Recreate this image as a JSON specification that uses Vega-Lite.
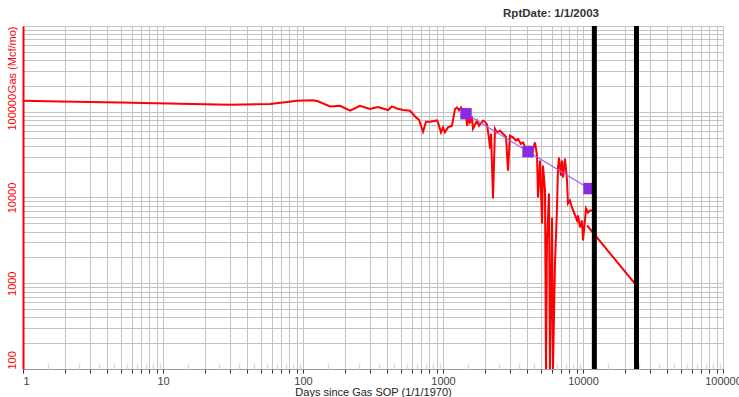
{
  "$schema": "https://vega.github.io/schema/vega-lite/v6.json",
  "width": 700,
  "height": 343,
  "autosize": {"type": "none"},
  "padding": {"left": 23, "top": 26, "right": 16, "bottom": 28},
  "background": "white",
  "config": {"view": {"stroke": null}},
  "title": {"text": "RptDate: 1/1/2003", "fontSize": 11.5, "fontWeight": "bold", "color": "#333333", "font": "Liberation Sans", "anchor": "middle", "dx": 178, "offset": 4},
  "datasets": {
    "hist": [
      {"days": 1, "gas": 134300}, {"days": 1.84, "gas": 131800}, {"days": 4.93, "gas": 128300}, {"days": 13.2, "gas": 123900},
      {"days": 30.1, "gas": 120500}, {"days": 58.1, "gas": 122900}, {"days": 74.4, "gas": 128900}, {"days": 90.6, "gas": 134300},
      {"days": 118, "gas": 136100}, {"days": 128, "gas": 132400}, {"days": 156, "gas": 115300}, {"days": 184, "gas": 117400},
      {"days": 217, "gas": 102800}, {"days": 255, "gas": 117400}, {"days": 301, "gas": 107500}, {"days": 343, "gas": 113500},
      {"days": 405, "gas": 104700}, {"days": 432, "gas": 115300}, {"days": 469, "gas": 109200}, {"days": 518, "gas": 104700},
      {"days": 581, "gas": 102800}, {"days": 641, "gas": 85900}, {"days": 674, "gas": 80700}, {"days": 720, "gas": 58500},
      {"days": 756, "gas": 76500}, {"days": 807, "gas": 76500}, {"days": 906, "gas": 79200}, {"days": 921, "gas": 75100},
      {"days": 968, "gas": 57500}, {"days": 1000, "gas": 65700}, {"days": 1033, "gas": 57500}, {"days": 1086, "gas": 65700},
      {"days": 1159, "gas": 68800}, {"days": 1218, "gas": 107500}, {"days": 1259, "gas": 112200}, {"days": 1301, "gas": 104000},
      {"days": 1345, "gas": 112200}, {"days": 1389, "gas": 98200}, {"days": 1460, "gas": 94800}, {"days": 1484, "gas": 68800},
      {"days": 1534, "gas": 85900}, {"days": 1559, "gas": 75100}, {"days": 1611, "gas": 82900}, {"days": 1638, "gas": 63400},
      {"days": 1749, "gas": 78600}, {"days": 1807, "gas": 68800}, {"days": 1931, "gas": 78600}, {"days": 1995, "gas": 76500},
      {"days": 2062, "gas": 70600}, {"days": 2131, "gas": 48500}, {"days": 2168, "gas": 37100}, {"days": 2203, "gas": 55500},
      {"days": 2276, "gas": 9730}, {"days": 2352, "gas": 63400}, {"days": 2430, "gas": 57500}, {"days": 2553, "gas": 60100},
      {"days": 2683, "gas": 55500}, {"days": 2818, "gas": 51200}, {"days": 2912, "gas": 20600}, {"days": 3010, "gas": 52600},
      {"days": 3162, "gas": 50300}, {"days": 3321, "gas": 46000}, {"days": 3433, "gas": 48200}, {"days": 3607, "gas": 42100},
      {"days": 3728, "gas": 44000}, {"days": 3917, "gas": 37100}, {"days": 4115, "gas": 39200}, {"days": 4323, "gas": 33400},
      {"days": 4542, "gas": 44000}, {"days": 4694, "gas": 30800}, {"days": 4773, "gas": 10000}, {"days": 4932, "gas": 26900},
      {"days": 5097, "gas": 4990}, {"days": 5179, "gas": 23600}, {"days": 5352, "gas": 12100}, {"days": 5442, "gas": 100},
      {"days": 5530, "gas": 3160}, {"days": 5715, "gas": 11100}, {"days": 5808, "gas": 100}, {"days": 6013, "gas": 5850},
      {"days": 6105, "gas": 100}, {"days": 6310, "gas": 1710}, {"days": 6520, "gas": 7650}, {"days": 6630, "gas": 22300},
      {"days": 6740, "gas": 29200}, {"days": 6960, "gas": 18000}, {"days": 7080, "gas": 26900}, {"days": 7200, "gas": 17100},
      {"days": 7440, "gas": 28400}, {"days": 7690, "gas": 15800}, {"days": 7810, "gas": 8520}, {"days": 8070, "gas": 9230},
      {"days": 8340, "gas": 7650}, {"days": 8620, "gas": 6690}, {"days": 9060, "gas": 5400}, {"days": 9210, "gas": 6180},
      {"days": 9520, "gas": 4480}, {"days": 9840, "gas": 5400}, {"days": 10000, "gas": 3160}, {"days": 10330, "gas": 5400},
      {"days": 10500, "gas": 7450}, {"days": 10860, "gas": 6690}, {"days": 11220, "gas": 7060}, {"days": 11590, "gas": 7060}
    ],
    "forecast": [{"days": 10680, "gas": 4730}, {"days": 24300, "gas": 923}],
    "typecurve": [{"days": 1460, "gas": 94800}, {"days": 4050, "gas": 34300}, {"days": 11040, "gas": 12700}],
    "dates": [{"days": 12053, "label": "RptDate"}, {"days": 24107, "label": "End"}]
  },
  "resolve": {"axis": {"x": "independent"}},
  "layer": [
    {
      "encoding": {
        "x": {
          "field": "days", "type": "quantitative",
          "scale": {"type": "log", "domain": [1, 100000], "nice": false},
          "axis": {
            "values": [1,2,3,4,5,6,7,8,9,10,20,30,40,50,60,70,80,90,100,200,300,400,500,600,700,800,900,1000,2000,3000,4000,5000,6000,7000,8000,9000,10000,20000,30000,40000,50000,60000,70000,80000,90000,100000],
            "format": "d",
            "labelExpr": "indexof([1,10,100,1000,10000,100000], datum.value) >= 0 ? datum.label : ''",
            "labelAlign": {"condition": {"test": "datum.value == 1", "value": "left"}, "value": "center"},
            "labelOverlap": false, "labelFlush": false,
            "grid": true, "gridColor": "#c4c4c4", "gridWidth": 1,
            "domainColor": "#999999", "tickColor": "#333333", "tickSize": 4,
            "labelColor": "#444444", "labelFont": "Liberation Sans", "labelFontSize": 11, "labelPadding": 2,
            "title": "Days since Gas SOP (1/1/1970)", "titleFont": "Liberation Sans", "titleFontSize": 11,
            "titleFontWeight": "normal", "titleColor": "#222222", "titlePadding": 0
          }
        },
        "y": {
          "field": "gas", "type": "quantitative",
          "scale": {"type": "log", "domain": [100, 1000000], "nice": false},
          "axis": {
            "values": [100,200,300,400,500,600,700,800,900,1000,2000,3000,4000,5000,6000,7000,8000,9000,10000,20000,30000,40000,50000,60000,70000,80000,90000,100000,200000,300000,400000,500000,600000,700000,800000,900000,1000000],
            "format": "d",
            "labelExpr": "indexof([100,1000,10000,100000], datum.value) >= 0 ? datum.label : ''",
            "labelOverlap": false, "labelFlush": false,
            "grid": true, "gridColor": "#c4c4c4", "gridWidth": 1,
            "domainColor": "#ff0000", "domainWidth": 2, "ticks": false,
            "labelColor": "#ff0000", "labelFont": "Liberation Sans", "labelFontSize": 11,
            "labelAngle": 270,
            "labelAlign": {"condition": {"test": "datum.value == 100", "value": "left"}, "value": "center"},
            "labelBaseline": "bottom", "labelPadding": 6,
            "title": "Gas (Mcf/mo)", "titleColor": "#ff0000", "titleFont": "Liberation Sans", "titleFontSize": 11,
            "titleFontWeight": "normal", "titleAngle": 270, "titleX": -11, "titleY": 0,
            "titleAlign": "right", "titleBaseline": "middle"
          }
        }
      },
      "layer": [
        {"data": {"name": "hist"}, "mark": {"type": "line", "color": "#ff0000", "strokeWidth": 2, "clip": true}},
        {"data": {"name": "forecast"}, "mark": {"type": "line", "color": "#ff0000", "strokeWidth": 2, "clip": true}},
        {"data": {"name": "typecurve"}, "mark": {"type": "line", "color": "#a35cf5", "strokeWidth": 1.2}},
        {"data": {"name": "typecurve"}, "mark": {"type": "point", "shape": "square", "filled": true, "color": "#8a2be2", "opacity": 1, "size": 130}}
      ]
    },
    {
      "data": {"name": "dates"},
      "mark": {"type": "rule", "color": "#000000", "strokeWidth": 5},
      "encoding": {
        "x": {
          "field": "days", "type": "quantitative",
          "scale": {"type": "log", "domain": [1, 100000], "nice": false},
          "axis": {
            "orient": "bottom",
            "values": [1.5,2.5,3.5,4.5,5.5,6.5,7.5,8.5,9.5,15,25,35,45,55,65,75,85,95,150,250,350,450,550,650,750,850,950,1500,2500,3500,4500,5500,6500,7500,8500,9500,15000,25000,35000,45000,55000,65000,75000,85000,95000],
            "labels": false, "domain": false, "grid": false, "title": null,
            "tickSize": -6, "tickColor": "#dddddd", "tickWidth": 1.5
          }
        },
        "y": {"datum": 100},
        "y2": {"datum": 1000000}
      }
    }
  ]
}
